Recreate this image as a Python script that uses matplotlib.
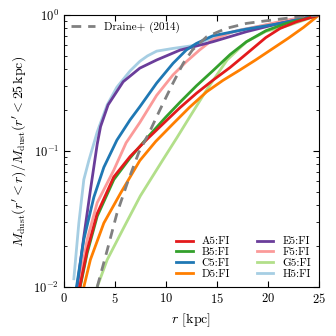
import numpy as np
import matplotlib
matplotlib.use('Agg')
import matplotlib.pyplot as plt

plt.rcParams['font.family'] = ['cmr10', 'DejaVu Serif']
plt.rcParams['mathtext.fontset'] = 'cm'
plt.rcParams['axes.formatter.use_mathtext'] = True
plt.rcParams['font.size'] = 9

# cumulative dust mass profiles: r [kpc], log10 fraction
r_A = [1.57, 2.29, 3.27, 4.9, 6.5, 8.2, 10.0, 11.4, 13.0, 14.6, 16.3, 17.9, 19.8, 21.2, 22.8, 25.0]
f_A = [-2.0, -1.73, -1.46, -1.19, -1.04, -0.91, -0.78, -0.68, -0.575, -0.48, -0.385, -0.285, -0.165, -0.098, -0.049, 0.0]

r_B = [1.6, 2.29, 3.27, 4.9, 6.5, 8.2, 10.0, 11.4, 13.0, 14.6, 16.3, 17.9, 19.8, 21.8, 23.5, 25.0]
f_B = [-2.0, -1.75, -1.48, -1.21, -1.05, -0.9, -0.75, -0.64, -0.52, -0.41, -0.29, -0.196, -0.115, -0.061, -0.03, 0.0]

r_C = [1.24, 1.96, 2.94, 3.92, 5.2, 6.5, 7.45, 9.1, 10.7, 12.0, 13.0, 14.6, 17.9, 21.2, 25.0]
f_C = [-2.0, -1.65, -1.34, -1.12, -0.92, -0.77, -0.674, -0.50, -0.355, -0.257, -0.208, -0.152, -0.103, -0.061, 0.0]

r_D = [1.96, 2.6, 3.92, 5.56, 7.45, 9.0, 10.7, 12.3, 14.0, 15.6, 17.25, 18.8, 20.4, 22.0, 23.5, 25.0]
f_D = [-2.0, -1.8, -1.53, -1.31, -1.07, -0.93, -0.80, -0.68, -0.564, -0.48, -0.404, -0.33, -0.25, -0.17, -0.09, 0.0]

r_E = [1.3, 1.96, 2.6, 3.27, 3.6, 4.34, 5.82, 7.45, 9.1, 11.4, 12.6, 14.6, 17.9, 21.2, 25.0]
f_E = [-2.0, -1.63, -1.29, -0.95, -0.82, -0.66, -0.49, -0.39, -0.33, -0.257, -0.235, -0.196, -0.122, -0.06, 0.0]

r_F = [1.47, 2.29, 3.27, 4.9, 6.1, 7.45, 9.1, 10.7, 12.0, 13.3, 14.6, 16.6, 19.2, 21.8, 25.0]
f_F = [-2.0, -1.65, -1.38, -1.14, -0.94, -0.79, -0.59, -0.44, -0.343, -0.257, -0.18, -0.122, -0.081, -0.037, 0.0]

r_G = [3.27, 4.25, 5.9, 7.5, 9.7, 11.1, 12.35, 14.0, 16.0, 17.9, 19.8, 22.1, 25.0]
f_G = [-2.0, -1.8, -1.56, -1.33, -1.066, -0.9, -0.748, -0.55, -0.33, -0.196, -0.12, -0.074, 0.0]

r_H = [0.98, 1.47, 1.96, 2.45, 3.27, 4.25, 5.2, 6.5, 7.45, 8.2, 9.1, 10.7, 12.6, 14.6, 17.2, 19.8, 22.5, 25.0]
f_H = [-1.94, -1.53, -1.21, -1.07, -0.86, -0.66, -0.53, -0.41, -0.34, -0.30, -0.265, -0.245, -0.225, -0.167, -0.11, -0.073, -0.03, 0.0]

r_draine = [3.27, 4.25, 5.2, 6.2, 7.35, 8.4, 9.4, 10.7, 11.7, 12.6, 14.0, 15.9, 17.9, 19.8, 22.5, 25.0]
f_draine = [-2.0, -1.73, -1.46, -1.24, -1.01, -0.86, -0.70, -0.50, -0.355, -0.257, -0.159, -0.098, -0.061, -0.042, -0.017, 0.0]

names = ['A5:FI', 'B5:FI', 'C5:FI', 'D5:FI', 'E5:FI', 'F5:FI', 'G5:FI', 'H5:FI']
colors = ['#e31a1c', '#33a02c', '#1f78b4', '#ff7f00', '#6a3d9a', '#fb9a99', '#b2df8a', '#a6cee3']
radii = [r_A, r_B, r_C, r_D, r_E, r_F, r_G, r_H]
fracs = [f_A, f_B, f_C, f_D, f_E, f_F, f_G, f_H]

fig = plt.figure(figsize=(3.36, 3.36), dpi=100)
ax = fig.add_axes([0.19, 0.146, 0.759, 0.809])

# draw in reverse so A5 ends on top
order = [6, 7, 5, 4, 2, 3, 1, 0]
handles = {}
for i in order:
    ln, = ax.plot(radii[i], 10 ** np.array(fracs[i]), color=colors[i], lw=2, label=names[i])
    handles[i] = ln

dr, = ax.plot(r_draine, 10 ** np.array(f_draine), color='grey', lw=2, ls=(0, (3.5, 2.5)), label='Draine+ (2014)')

ax.set_yscale('log')
ax.set_xlim(0, 25)
ax.set_ylim(1e-2, 1)
ax.set_xticks([0, 5, 10, 15, 20, 25])
ax.tick_params(which='both', direction='in', top=True, right=True)
ax.tick_params(which='major', length=4)
ax.tick_params(which='minor', length=2)

ax.set_xlabel(r'$r$ [kpc]', fontsize=10)
ax.set_ylabel(r"$M_{\rm dust}(r'<r)/M_{\rm dust}(r'<25\,{\rm kpc})$", fontsize=10)

leg1 = ax.legend(handles=[dr], loc='upper left', frameon=False, fontsize=8,
                 handlelength=2.2, borderaxespad=0.2)
ax.add_artist(leg1)
ax.legend(handles=[handles[i] for i in range(8)], loc='lower right', ncol=2,
          frameon=False, fontsize=8, handlelength=1.5, columnspacing=2.4,
          labelspacing=0.1, borderaxespad=0.3)

fig.savefig('out.png', dpi=100)
